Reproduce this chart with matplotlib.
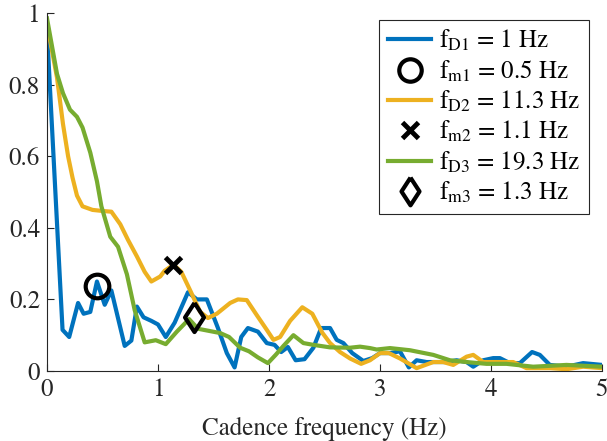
import matplotlib
matplotlib.use("Agg")
import matplotlib.pyplot as plt

plt.rcParams['font.family'] = ['STIXGeneral', 'DejaVu Serif']
plt.rcParams['mathtext.fontset'] = 'stix'

# ---- data ----
f_blue = [0, 0.14, 0.2, 0.28, 0.33, 0.39, 0.45, 0.52, 0.58, 0.70, 0.76, 0.81, 0.87, 0.94,
          1.0, 1.07, 1.15, 1.27, 1.35, 1.44, 1.54, 1.62, 1.69, 1.75, 1.81, 1.9, 1.98, 2.05,
          2.11, 2.17, 2.24, 2.32, 2.4, 2.47, 2.55, 2.61, 2.67, 2.75, 2.85, 2.93, 3.0, 3.09,
          3.18, 3.26, 3.33, 3.42, 3.51, 3.6, 3.69, 3.78, 3.84, 3.93, 4.02, 4.08, 4.17, 4.26,
          4.37, 4.44, 4.53, 4.68, 4.83, 5.0]
v_blue = [0.95, 0.115, 0.095, 0.19, 0.16, 0.165, 0.25, 0.185, 0.225, 0.07, 0.085, 0.18, 0.15,
          0.14, 0.13, 0.095, 0.135, 0.22, 0.2, 0.2, 0.12, 0.05, 0.01, 0.095, 0.12, 0.11, 0.078,
          0.073, 0.053, 0.067, 0.03, 0.033, 0.065, 0.12, 0.12, 0.087, 0.078, 0.05, 0.028, 0.036,
          0.05, 0.05, 0.055, 0.01, 0.03, 0.025, 0.025, 0.025, 0.03, 0.025, 0.012, 0.03, 0.036,
          0.036, 0.022, 0.022, 0.053, 0.045, 0.017, 0.012, 0.022, 0.017]

f_orange = [0, 0.09, 0.144, 0.19, 0.23, 0.27, 0.32, 0.41, 0.5, 0.58, 0.66, 0.73, 0.81, 0.88,
            0.94, 1.02, 1.06, 1.14, 1.21, 1.29, 1.38, 1.45, 1.53, 1.65, 1.72, 1.8, 1.89, 1.98,
            2.04, 2.1, 2.19, 2.3, 2.39, 2.48, 2.55, 2.64, 2.73, 2.83, 2.91, 3.0, 3.08, 3.18,
            3.33, 3.48, 3.57, 3.66, 3.78, 3.84, 3.93, 4.08, 4.2, 4.32, 4.53, 4.68, 4.83, 5.0]
v_orange = [0.97, 0.82, 0.69, 0.6, 0.54, 0.49, 0.46, 0.45, 0.447, 0.445, 0.41, 0.366, 0.32,
            0.277, 0.25, 0.264, 0.28, 0.297, 0.277, 0.225, 0.165, 0.148, 0.16, 0.19, 0.2, 0.198,
            0.156, 0.115, 0.087, 0.095, 0.14, 0.178, 0.16, 0.107, 0.078, 0.053, 0.035, 0.02,
            0.03, 0.05, 0.05, 0.035, 0.008, 0.025, 0.025, 0.017, 0.04, 0.045, 0.025, 0.025,
            0.025, 0.008, 0.008, 0.005, 0.012, 0.008]

f_green = [0, 0.09, 0.144, 0.207, 0.27, 0.32, 0.39, 0.45, 0.49, 0.57, 0.64, 0.72, 0.79, 0.88,
           0.98, 1.07, 1.17, 1.28, 1.36, 1.46, 1.56, 1.64, 1.74, 1.82, 1.9, 1.99, 2.06, 2.13,
           2.22, 2.31, 2.4, 2.55, 2.73, 2.82, 2.91, 2.97, 3.09, 3.27, 3.48, 3.63, 3.78, 3.96,
           4.14, 4.38, 4.68, 5.0]
v_green = [0.985, 0.83, 0.776, 0.73, 0.71, 0.68, 0.61, 0.53, 0.46, 0.375, 0.347, 0.27, 0.17,
           0.08, 0.086, 0.075, 0.11, 0.145, 0.118, 0.112, 0.106, 0.095, 0.065, 0.055, 0.038,
           0.022, 0.045, 0.07, 0.1, 0.078, 0.073, 0.066, 0.065, 0.068, 0.064, 0.06, 0.064,
           0.058, 0.045, 0.03, 0.025, 0.02, 0.02, 0.012, 0.017, 0.012]

marker_f = [0.45, 1.135, 1.32]
marker_v = [0.237, 0.296, 0.152]

labels = [r'f$_{\mathrm{D1}}$ = 1 Hz', r'f$_{\mathrm{m1}}$ = 0.5 Hz',
          r'f$_{\mathrm{D2}}$ = 11.3 Hz', r'f$_{\mathrm{m2}}$ = 1.1 Hz',
          r'f$_{\mathrm{D3}}$ = 19.3 Hz', r'f$_{\mathrm{m3}}$ = 1.3 Hz']

x_ticks = [0, 1, 2, 3, 4, 5]
y_ticks = [0, 0.2, 0.4, 0.6, 0.8, 1]
y_ticklabels = ['0', '0.2', '0.4', '0.6', '0.8', '1']

c_blue = '#0072BD'
c_orange = '#EDB120'
c_green = '#77AC30'

diamond = [(0, 1), (0.65, 0), (0, -1), (-0.65, 0), (0, 1)]

fig = plt.figure(figsize=(6.07, 4.41), dpi=100)
ax = fig.add_axes([47 / 607, 70 / 441, 555 / 607, 358 / 441])

lw = 3.0
h1, = ax.plot(f_blue, v_blue, color=c_blue, lw=lw)
h2, = ax.plot([marker_f[0]], [marker_v[0]], ls='none', marker='o', ms=17, mew=3,
              mfc='none', mec='black')
h3, = ax.plot(f_orange, v_orange, color=c_orange, lw=lw)
h4, = ax.plot([marker_f[1]], [marker_v[1]], ls='none', marker='x', ms=12, mew=3.5,
              color='black')
h5, = ax.plot(f_green, v_green, color=c_green, lw=lw)
h6, = ax.plot([marker_f[2]], [marker_v[2]], ls='none', marker=diamond, ms=21, mew=3,
              mfc='none', mec='black')
for h in (h2, h4, h6):
    h.set_zorder(5)

ax.set_xlim(0, 5)
ax.set_ylim(0, 1)
ax.set_xticks(x_ticks)
ax.set_xticklabels([str(t) for t in x_ticks])
ax.set_yticks(y_ticks)
ax.set_yticklabels(y_ticklabels)
ax.tick_params(direction='in', length=5, width=0.8, colors='#262626', labelsize=18,
               labelcolor='#262626', pad=5)
for s in ('top', 'right'):
    ax.spines[s].set_visible(False)
for s in ('left', 'bottom'):
    ax.spines[s].set_color('#262626')
    ax.spines[s].set_linewidth(0.8)

ax.set_xlabel('Cadence frequency (Hz)', fontsize=18, color='#262626', labelpad=11)

leg = ax.legend([h1, h2, h3, h4, h5, h6], labels, loc='upper right',
                bbox_to_anchor=(0.9766, 0.9804), borderaxespad=0, fontsize=18,
                fancybox=False, framealpha=1, edgecolor='#262626', handlelength=1.75,
                handletextpad=0.3, labelspacing=0.2, borderpad=0.35, markerscale=0.95)
leg.get_frame().set_linewidth(0.8)

fig.savefig('out.png', dpi=100)
